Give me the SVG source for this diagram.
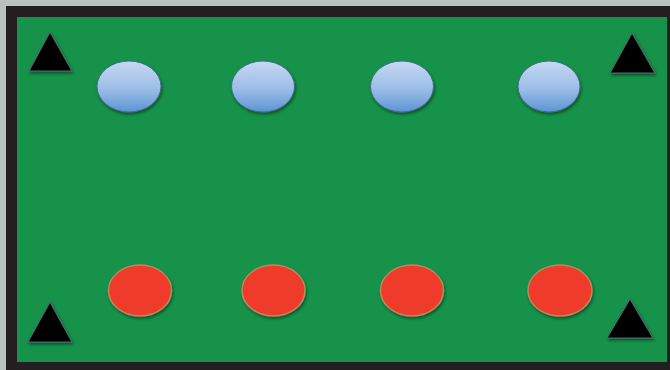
<svg xmlns="http://www.w3.org/2000/svg" width="670" height="370" viewBox="0 0 670 370">
<defs>
<linearGradient id="blueG" x1="0" y1="0" x2="0" y2="1">
<stop offset="0" stop-color="#c6d8f2"/>
<stop offset="0.55" stop-color="#9bbde6"/>
<stop offset="1" stop-color="#5d94d4"/>
</linearGradient>
<filter id="sh" x="-30%" y="-30%" width="160%" height="160%">
<feGaussianBlur in="SourceAlpha" stdDeviation="1.5"/>
<feOffset dx="1" dy="2" result="b"/>
<feComponentTransfer><feFuncA type="linear" slope="0.45"/></feComponentTransfer>
<feMerge><feMergeNode/><feMergeNode in="SourceGraphic"/></feMerge>
</filter>
</defs>
<style>
.blue{fill:url(#blueG);stroke:#3e6e8a;stroke-width:1}
.red{fill:#ef3a2a;stroke:#b88a5e;stroke-width:1.5}
.tri{fill:#000;stroke:#4a6a70;stroke-width:1.2;stroke-linejoin:round}
</style>
<rect x="0" y="0" width="670" height="370" fill="#b9c1be"/>
<rect x="6" y="6" width="670" height="364" fill="#231f20"/>
<rect x="17" y="17" width="650" height="345" fill="#16924a"/>
<g id="cone-tl" filter="url(#sh)"><polygon class="tri" points="50,32 29,71 72,71"/></g>
<g id="cone-tr" filter="url(#sh)"><polygon class="tri" points="632,33 610,73 655,73"/></g>
<g id="cone-bl" filter="url(#sh)"><polygon class="tri" points="50,302 28,342 72,342"/></g>
<g id="cone-br" filter="url(#sh)"><polygon class="tri" points="630,299 607,338 653,338"/></g>
<g id="blue1" filter="url(#sh)"><ellipse class="blue" cx="129" cy="86.5" rx="32" ry="25.5"/></g>
<g id="blue2" filter="url(#sh)"><ellipse class="blue" cx="263" cy="86.5" rx="31.5" ry="25.5"/></g>
<g id="blue3" filter="url(#sh)"><ellipse class="blue" cx="402" cy="86.5" rx="31.5" ry="25.5"/></g>
<g id="blue4" filter="url(#sh)"><ellipse class="blue" cx="549" cy="86.5" rx="31" ry="25.5"/></g>
<g id="red1" filter="url(#sh)"><ellipse class="red" cx="140" cy="290.5" rx="31.5" ry="25.5"/></g>
<g id="red2" filter="url(#sh)"><ellipse class="red" cx="273.5" cy="290.5" rx="31.5" ry="25.5"/></g>
<g id="red3" filter="url(#sh)"><ellipse class="red" cx="412" cy="290.5" rx="31.5" ry="25.5"/></g>
<g id="red4" filter="url(#sh)"><ellipse class="red" cx="560" cy="290.5" rx="32" ry="25.5"/></g>
<g id="connectors"/>
</svg>
